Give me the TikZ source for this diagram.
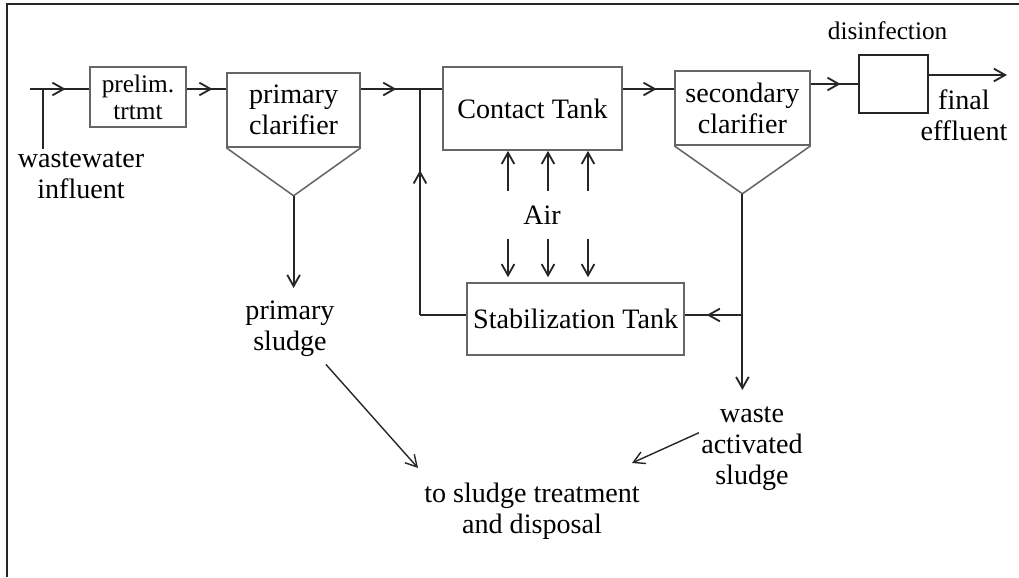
\documentclass[tikz,border=0pt]{standalone}
\usepackage{fontspec}
\setmainfont{Liberation Serif}
\usetikzlibrary{arrows.meta,calc,decorations.markings}

\begin{document}
\begin{tikzpicture}
  \tikzset{unit/.style = {shape=rectangle,draw=black!60,line width=1.1pt,inner sep=0pt,font=\fontsize{20}{22}\selectfont,align=center}}
  \tikzset{cone/.style = {draw=black!60,line width=1.1pt}}
  \tikzset{lbl/.style = {inner sep=1.5pt,font=\fontsize{20}{22}\selectfont,align=center}}
  \tikzset{pipe/.style = {line width=1.3pt,black!85}}
  \tikzset{flow/.style = {pipe,postaction={decorate},decoration={markings,mark=at position #1 with {\arrow{>}}}}}
  \tikzset{>={Straight Barb[length=8pt,width=9pt]}}

  \useasboundingbox (0,0) rectangle (25.475,14.425);
  \draw[line width=1.8pt,black!85] (0.175,0) -- (0.175,14.325) -- (25.475,14.325);

	\node[unit,minimum width=2.4cm,minimum height=1.5cm,font=\fontsize{18}{19}\selectfont] (prelim) at (3.45,12.0) {prelim.\\trtmt};
	\node[unit,minimum width=3.325cm,minimum height=1.85cm] (pclar) at (7.34,11.675) {primary\\clarifier};
	\node[unit,minimum width=4.475cm,minimum height=2.075cm] (contact) at (13.31,11.71) {Contact Tank};
	\node[unit,minimum width=5.425cm,minimum height=1.8cm] (stab) at (14.39,6.45) {Stabilization Tank};
	\node[unit,minimum width=3.375cm,minimum height=1.85cm] (sclar) at (18.56,11.725) {secondary\\clarifier};
	\node[unit,draw=black!85,line width=1.4pt,minimum width=1.725cm,minimum height=1.45cm] (dis) at (22.34,12.325) {};

	\node[lbl] (wwi) at (2.025,10.05) {wastewater\\influent};
	\node[lbl] (psludge) at (7.25,6.2) {primary\\sludge};
	\node[lbl] (air) at (13.55,9.05) {Air};
	\node[lbl] (wasl) at (18.8,3.2) {waste\\activated\\sludge};
	\node[lbl] (disposal) at (13.3,1.65) {to sludge treatment\\and disposal};
	\node[lbl,font=\fontsize{18}{20}\selectfont] (dislbl) at (22.19,13.665) {disinfection};
	\node[lbl] (feff) at (24.1,11.54) {final\\effluent};

	\coordinate (inlet) at (0.75,12.2);
	\coordinate (tap) at (1.075,12.2);
	\coordinate (jret) at (10.5,12.2);
	\coordinate (pcone) at ($(pclar.south)+(0,-1.2)$);
	\coordinate (scone) at ($(sclar.south)+(0,-1.2)$);
	\coordinate (jsec) at (scone |- 0,6.55);
	\coordinate (jlow) at (jret |- jsec);
	\coordinate (pdrop) at (pcone |- 0,7.225);
	\coordinate (sdrop) at (scone |- 0,4.675);
	\coordinate (pend) at (10.45,2.725);
	\coordinate (wend) at (15.8,2.85);
	\coordinate (out) at (25.175,12.55);

    \foreach \c in {pclar,sclar}
    \draw[cone] (\c.south west) -- ($(\c.south)+(0,-1.2)$) -- (\c.south east);

	\draw[flow=0.6] (inlet) -- (inlet -| prelim.west);
	\draw[pipe] (tap) -- (tap |- wwi.north);
	\draw[flow=0.65] (inlet -| prelim.east) -- (inlet -| pclar.west);
	\draw[flow=0.6] (inlet -| pclar.east) -- (jret);
	\draw[pipe] (jret) -- (jret -| contact.west);
	\draw[flow=0.66] (inlet -| contact.east) -- (inlet -| sclar.west);
	\draw[flow=0.63] (dis.west -| sclar.east) -- (dis.west);
	\draw[pipe,->] (out -| dis.east) -- (out);

	\draw[pipe] (jsec -| stab.west) -- (jlow);
	\draw[flow=0.64] (jlow) -- (jret);
	\draw[pipe,->] (scone) -- (sdrop);
	\draw[flow=0.62] (jsec) -- (jsec -| stab.east);
	\draw[pipe,->] (pcone) -- (pdrop);

       \foreach \dx in {-0.85,0.15,1.15} {
    \draw[pipe,->] ($(air.north)+(\dx,0.3)$) -- ($(air.north |- contact.south)+(\dx,0)$);
    \draw[pipe,->] ($(air.south)+(\dx,-0.3)$) -- ($(air.south |- stab.north)+(\dx,0.125)$);
       }

	\draw[pipe,line width=1pt,->,shorten <=5pt] (psludge.-44) -- (pend);
	\draw[pipe,line width=1pt,->] (wasl.163) -- (wend);
\end{tikzpicture}
\end{document}
